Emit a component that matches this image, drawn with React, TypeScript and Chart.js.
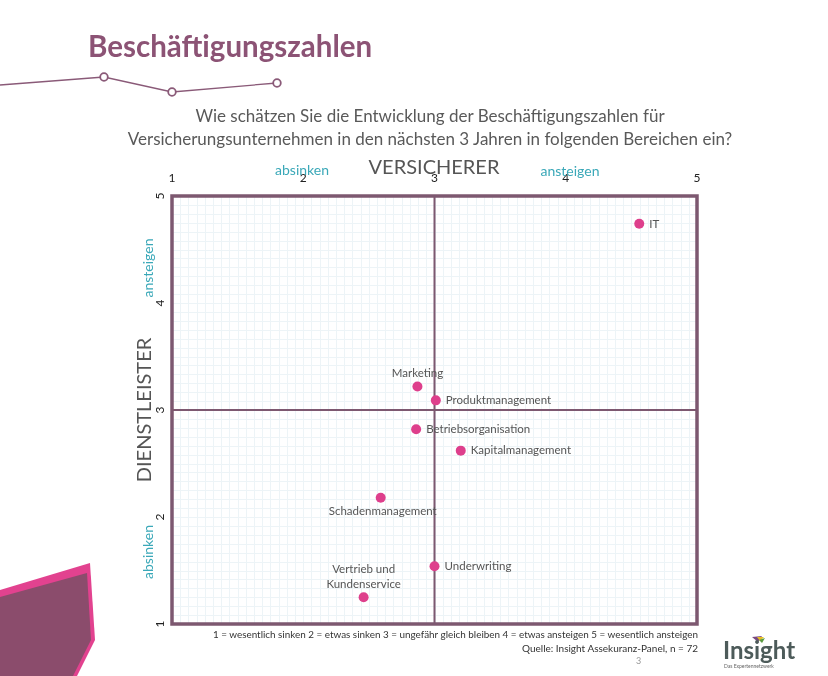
import React, { useEffect, useRef } from "react";
import { Chart, registerables } from "chart.js";

Chart.register(...registerables);

// ---------- data ----------
const areas = [
  "IT",
  "Marketing",
  "Produktmanagement",
  "Betriebsorganisation",
  "Kapitalmanagement",
  "Schadenmanagement",
  "Underwriting",
  "Vertrieb und\nKundenservice",
];
const versichererValues = [4.56, 2.87, 3.01, 2.86, 3.2, 2.59, 3.0, 2.46];
const dienstleisterValues = [4.74, 3.22, 3.09, 2.82, 2.62, 2.18, 1.54, 1.25];
const labelPlacement = ["right", "above", "right", "right", "right", "below", "right", "above"];
const scaleMin = 1;
const scaleMax = 5;
const midValue = 3;

const FRAME = "#7d5870";
const PINK = "#de3f8c";
const FONT = "Lato, 'Open Sans', sans-serif";

const framePlugin = {
  id: "frame",
  beforeDatasetsDraw(chart: any) {
    const { ctx, chartArea: a, scales } = chart;
    const xs = scales.x;
    const ys = scales.y;
    ctx.save();
    // fine grid
    ctx.strokeStyle = "#edf4f7";
    ctx.lineWidth = 1;
    for (let i = 1; i < (scaleMax - scaleMin) * 16; i++) {
      const px = Math.round(xs.getPixelForValue(scaleMin + i / 16)) + 0.5;
      ctx.beginPath();
      ctx.moveTo(px, a.top);
      ctx.lineTo(px, a.bottom);
      ctx.stroke();
    }
    for (let i = 1; i < (scaleMax - scaleMin) * 12; i++) {
      const py = Math.round(ys.getPixelForValue(scaleMin + i / 12)) + 0.5;
      ctx.beginPath();
      ctx.moveTo(a.left, py);
      ctx.lineTo(a.right, py);
      ctx.stroke();
    }
    // mid lines
    ctx.strokeStyle = FRAME;
    ctx.lineWidth = 2;
    const mx = xs.getPixelForValue(midValue);
    const my = ys.getPixelForValue(midValue);
    ctx.beginPath();
    ctx.moveTo(mx, a.top);
    ctx.lineTo(mx, a.bottom);
    ctx.moveTo(a.left, my);
    ctx.lineTo(a.right, my);
    ctx.stroke();
    // border
    ctx.lineWidth = 3.5;
    ctx.strokeRect(a.left, a.top, a.right - a.left, a.bottom - a.top);
    ctx.restore();
  },
  afterDatasetsDraw(chart: any) {
    const { ctx, chartArea: a, scales } = chart;
    const meta = chart.getDatasetMeta(0);
    ctx.save();
    ctx.fillStyle = "#555555";
    ctx.font = `11.5px ${FONT}`;
    ctx.textBaseline = "middle";
    meta.data.forEach((pt: any, i: number) => {
      const lines = areas[i].split("\n");
      const place = labelPlacement[i];
      if (place === "right") {
        ctx.textAlign = "left";
        ctx.fillText(lines[0], pt.x + 10, pt.y);
      } else if (place === "above") {
        ctx.textAlign = "center";
        lines.forEach((l: string, k: number) => {
          ctx.fillText(l, pt.x, pt.y - 13 - (lines.length - 1 - k) * 15);
        });
      } else {
        ctx.textAlign = "center";
        ctx.fillText(lines[0], pt.x + 2, pt.y + 14);
      }
    });
    // rotated y tick labels from the y scale's ticks
    const ys = scales.y;
    ctx.fillStyle = "#222";
    ctx.font = `12px ${FONT}`;
    ctx.textAlign = "center";
    ctx.textBaseline = "middle";
    ys.ticks.forEach((t: any) => {
      const py = ys.getPixelForValue(t.value);
      ctx.save();
      ctx.translate(a.left - 12, py);
      ctx.rotate(-Math.PI / 2);
      ctx.fillText(String(t.value), 0, 0);
      ctx.restore();
    });
    ctx.restore();
  },
};

function ScatterChart() {
  const ref = useRef<HTMLCanvasElement | null>(null);
  useEffect(() => {
    if (!ref.current) return;
    const chart = new Chart(ref.current, {
      type: "scatter",
      data: {
        datasets: [
          {
            data: versichererValues.map((v, i) => ({ x: v, y: dienstleisterValues[i] })),
            backgroundColor: PINK,
            borderWidth: 0,
            pointRadius: 5,
          },
        ],
      },
      options: {
        animation: false,
        responsive: false,
        devicePixelRatio: 1,
        layout: { padding: { top: 174, left: 150, right: 131, bottom: 52 } },
        plugins: { legend: { display: false }, tooltip: { enabled: false } },
        scales: {
          x: {
            type: "linear",
            position: "top",
            min: scaleMin,
            max: scaleMax,
            grid: { display: false },
            border: { display: false },
            ticks: { stepSize: 1, color: "#222", padding: 3, font: { family: FONT, size: 12 } },
            afterFit: (s: any) => {
              s.height = 22;
            },
          },
          y: {
            type: "linear",
            position: "left",
            min: scaleMin,
            max: scaleMax,
            grid: { display: false },
            border: { display: false },
            ticks: { stepSize: 1, display: false },
            afterFit: (s: any) => {
              s.width = 22;
            },
          },
        },
      },
      plugins: [framePlugin],
    } as any);
    return () => chart.destroy();
  }, []);
  return <canvas ref={ref} width={828} height={676} style={{ position: "absolute", left: 0, top: 0 }} />;
}

const abs = (s: React.CSSProperties): React.CSSProperties => ({ position: "absolute", whiteSpace: "nowrap", fontFamily: FONT, ...s });

export default function App() {
  return (
    <div style={{ position: "fixed", left: 0, top: 0, width: 828, height: 676, background: "#fff", overflow: "hidden" }}>
      <svg width={828} height={676} style={{ position: "absolute", left: 0, top: 0 }}>
        <polyline points="0,85 104,77 172,92 277,83" fill="none" stroke="#8a5a78" strokeWidth={1.3} />
        {[
          [104, 77],
          [172, 92],
          [277, 83],
        ].map(([cx, cy], i) => (
          <circle key={i} cx={cx} cy={cy} r={3.8} fill="#fff" stroke="#8a5a78" strokeWidth={1.8} />
        ))}
        <polygon points="0,590 90,563 95,640 77,676 0,676" fill="#e2428f" />
        <polygon points="0,597 87,573 91,640 73,676 0,676" fill="#8b4c6c" />
        <polygon points="752,637 762,636 758,642" fill="#7a4a80" />
        <polygon points="757,637 764,637 760,641" fill="#e8c020" />
        <polygon points="759,640 765,638 762,643" fill="#5a9a40" />
      </svg>
      <ScatterChart />
      <div style={abs({ left: 88, top: 31, fontSize: 29.5, lineHeight: "30px", fontWeight: 700, color: "#8c5375" })}>
        Beschäftigungszahlen
      </div>
      <div style={abs({ left: 0, width: 860, top: 104, fontSize: 17, lineHeight: "23px", color: "#595959", textAlign: "center" })}>
        Wie schätzen Sie die Entwicklung der Beschäftigungszahlen für
        <br />
        Versicherungsunternehmen in den nächsten 3 Jahren in folgenden Bereichen ein?
      </div>
      <div style={abs({ left: 334, width: 200, top: 156, fontSize: 20, lineHeight: "20px", color: "#555", textAlign: "center" })}>
        VERSICHERER
      </div>
      <div style={abs({ left: 252, width: 100, top: 163, fontSize: 14, lineHeight: "14px", color: "#3aa8b8", textAlign: "center" })}>
        absinken
      </div>
      <div style={abs({ left: 520, width: 100, top: 164, fontSize: 14, lineHeight: "14px", color: "#3aa8b8", textAlign: "center" })}>
        ansteigen
      </div>
      <div
        style={abs({
          left: 43,
          width: 200,
          top: 400,
          fontSize: 20,
          lineHeight: "20px",
          color: "#555",
          textAlign: "center",
          transform: "rotate(-90deg)",
          transformOrigin: "100px 10px",
        })}
      >
        DIENSTLEISTER
      </div>
      <div
        style={abs({
          left: 98,
          width: 100,
          top: 261,
          fontSize: 14,
          lineHeight: "14px",
          color: "#3aa8b8",
          textAlign: "center",
          transform: "rotate(-90deg)",
          transformOrigin: "50px 7px",
        })}
      >
        ansteigen
      </div>
      <div
        style={abs({
          left: 98,
          width: 100,
          top: 545,
          fontSize: 14,
          lineHeight: "14px",
          color: "#3aa8b8",
          textAlign: "center",
          transform: "rotate(-90deg)",
          transformOrigin: "50px 7px",
        })}
      >
        absinken
      </div>
      <div style={abs({ right: 130, top: 628, fontSize: 9.9, lineHeight: "12px", color: "#333", textAlign: "right" })}>
        1 = wesentlich sinken 2 = etwas sinken 3 = ungefähr gleich bleiben 4 = etwas ansteigen 5 = wesentlich ansteigen
      </div>
      <div style={abs({ right: 130, top: 642, fontSize: 10, lineHeight: "12px", color: "#333", textAlign: "right" })}>
        Quelle: Insight Assekuranz-Panel, n = 72
      </div>
      <div style={abs({ left: 636, top: 655, fontSize: 9, lineHeight: "12px", color: "#999" })}>3</div>
      <div style={abs({ left: 723, top: 637, fontSize: 24, lineHeight: "26px", fontWeight: 700, color: "#4d5b5a" })}>Insight</div>
      <div style={abs({ left: 724, top: 663, fontSize: 5, lineHeight: "6px", color: "#666" })}>Das Expertennetzwerk</div>
    </div>
  );
}
